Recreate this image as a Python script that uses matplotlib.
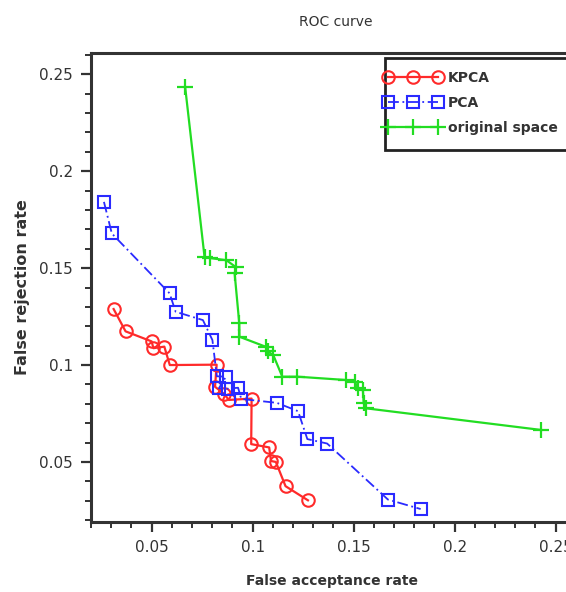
import matplotlib
matplotlib.use("Agg")
import matplotlib.pyplot as plt
from matplotlib.ticker import MultipleLocator, FormatStrFormatter
from matplotlib.patches import Rectangle

kpca_far = [0.0312, 0.0371, 0.0500, 0.0509, 0.0563, 0.0590, 0.0822, 0.0814, 0.0860, 0.0882,
            0.0995, 0.0993, 0.1082, 0.1091, 0.1115, 0.1163, 0.1274]
kpca_frr = [0.1289, 0.1174, 0.1122, 0.1087, 0.1095, 0.1000, 0.1002, 0.0888, 0.0850, 0.0820,
            0.0827, 0.0592, 0.0575, 0.0505, 0.0500, 0.0375, 0.0302]

pca_far = [0.0264, 0.0303, 0.0589, 0.0619, 0.0754, 0.0801, 0.0823, 0.0868, 0.0833, 0.0877,
           0.0928, 0.0944, 0.1120, 0.1225, 0.1271, 0.1369, 0.1670, 0.1832]
pca_frr = [0.1842, 0.1679, 0.1370, 0.1275, 0.1232, 0.1129, 0.0942, 0.0940, 0.0880, 0.0878,
           0.0883, 0.0825, 0.0805, 0.0762, 0.0618, 0.0595, 0.0306, 0.0257]

orig_far = [0.0666, 0.0762, 0.0790, 0.0870, 0.0919, 0.0911, 0.0934, 0.0935, 0.1066, 0.1075,
            0.1102, 0.1147, 0.1222, 0.1460, 0.1505, 0.1523, 0.1546, 0.1550, 0.1560, 0.2429]
orig_frr = [0.2435, 0.1558, 0.1552, 0.1541, 0.1504, 0.1473, 0.1215, 0.1146, 0.1094, 0.1070,
            0.1052, 0.0940, 0.0940, 0.0923, 0.0914, 0.0880, 0.0871, 0.0803, 0.0777, 0.0665]

W, H = 566, 592
fig = plt.figure(figsize=(W / 100, H / 100), dpi=100)
ax = fig.add_axes([0.1608, 0.1182, 0.8922, 0.7922])

ax.plot(kpca_far, kpca_frr, color="#ff2a2a", lw=1.6, marker="o", ms=9,
        mfc="none", mec="#ff2a2a", mew=1.5, label="KPCA", zorder=3)
ax.plot(pca_far, pca_frr, color="#2a2aff", lw=1.3, ls=(0, (6, 2, 1, 2)), marker="s", ms=8,
        mfc="none", mec="#2a2aff", mew=1.5, label="PCA", zorder=4)
ax.plot(orig_far, orig_frr, color="#22dd22", lw=1.6, marker="+", ms=11,
        mew=1.6, label="original space", zorder=2)

ax.set_xlim(0.02, 0.27)
ax.set_ylim(0.019, 0.261)
ax.xaxis.set_major_locator(MultipleLocator(0.05))
ax.xaxis.set_minor_locator(MultipleLocator(0.01))
ax.yaxis.set_major_locator(MultipleLocator(0.05))
ax.yaxis.set_minor_locator(MultipleLocator(0.01))
ax.xaxis.set_major_formatter(FormatStrFormatter("%g"))
ax.yaxis.set_major_formatter(FormatStrFormatter("%g"))

for s in ax.spines.values():
    s.set_linewidth(2.2)
    s.set_color("#333333")
ax.tick_params(which="major", direction="out", length=7, width=1.6, labelsize=11,
               colors="#333333", labelcolor="#333333", pad=6)
ax.tick_params(which="minor", direction="out", length=4, width=1.4, colors="#333333")

fig.text(336 / W, 1 - 22 / H, "ROC curve", fontsize=10, color="#333333",
         ha="center", va="center")
fig.text(332 / W, 1 - 581 / H, "False acceptance rate", fontsize=10, fontweight="bold",
         color="#333333", ha="center", va="center")
fig.text(23 / W, 1 - 287 / H, "False rejection rate", fontsize=11.5, fontweight="bold",
         color="#333333", ha="center", va="center", rotation=90)

# legend box (extends past the right edge like the reference)
box = Rectangle((385 / W, 1 - 150 / H), 200 / W, 92 / H,
                transform=fig.transFigure, fill=True, facecolor="white",
                edgecolor="#222222", linewidth=2, zorder=5, clip_on=False)
ax.add_patch(box)

leg = ax.legend(loc="upper left", bbox_to_anchor=(384 / W, 1 - 71 / H),
                bbox_transform=fig.transFigure, numpoints=3, handlelength=4.2,
                fontsize=10, frameon=False, borderpad=0,
                labelspacing=0.8, handletextpad=0.4, borderaxespad=0)
leg.set_zorder(6)
for t in leg.get_texts():
    t.set_fontweight("bold")
    t.set_color("#333333")

fig.savefig("out.png", dpi=100)
